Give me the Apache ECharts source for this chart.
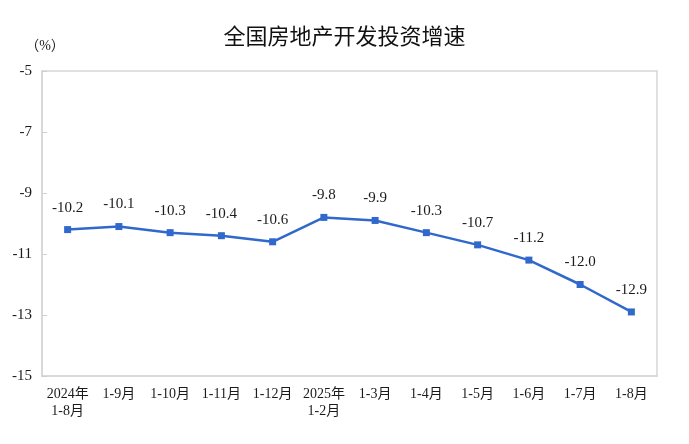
<!DOCTYPE html>
<html><head><meta charset="utf-8">
<script src="https://cdn.jsdelivr.net/npm/echarts@6/dist/echarts.min.js"></script>
<style>html,body{margin:0;padding:0;background:#fff}#c{width:689px;height:444px}</style>
</head><body><div id="c"></div>
<script>
const categories = ['2024年\n1-8月','1-9月','1-10月','1-11月','1-12月','2025年\n1-2月','1-3月','1-4月','1-5月','1-6月','1-7月','1-8月'];
const growth = [-10.2,-10.1,-10.3,-10.4,-10.6,-9.8,-9.9,-10.3,-10.7,-11.2,-12.0,-12.9];
const yMin = -15, yMax = -5, yStep = 2;

const serif = '"Liberation Serif","Times New Roman","Noto Sans CJK SC",serif';
const chart = echarts.init(document.getElementById('c'), null, {renderer:'canvas'});
chart.setOption({
  animation:false,
  backgroundColor:'#fff',
  title:{text:'全国房地产开发投资增速',left:'center',top:20,
    textStyle:{fontFamily:'"Noto Sans CJK SC",sans-serif',fontSize:22,fontWeight:'normal',color:'#111'}},
  grid:{left:42,right:32,top:71,bottom:68,show:true,borderColor:'#d6d6d6',borderWidth:1.5,containLabel:false},
  xAxis:{type:'category',data:categories,boundaryGap:true,
    axisLine:{lineStyle:{color:'#d6d6d6',width:1.5}},
    axisTick:{inside:true,length:7,lineStyle:{color:'#cfcfcf'}},
    axisLabel:{fontFamily:serif,fontSize:14,color:'#1a1a1a',lineHeight:17,margin:10,interval:0}},
  yAxis:{type:'value',min:yMin,max:yMax,interval:yStep,
    name:'（%）',nameLocation:'end',nameGap:18,
    nameTextStyle:{fontFamily:serif,fontSize:14,color:'#1a1a1a',align:'center',padding:[0,0,0,6]},
    axisLine:{show:true,lineStyle:{color:'#d6d6d6',width:1.5}},
    axisTick:{show:true,inside:true,length:5,lineStyle:{color:'#cfcfcf'}},
    splitLine:{show:false},
    axisLabel:{fontFamily:serif,fontSize:15,color:'#1a1a1a',margin:10}},
  series:[{type:'line',data:growth,symbol:'rect',symbolSize:7,
    lineStyle:{color:'#3068cc',width:2.5},itemStyle:{color:'#3068cc'},
    label:{show:true,position:'top',distance:11,fontFamily:serif,fontSize:15,color:'#1a1a1a',
      formatter:p=>p.value.toFixed(1)}}]
});
</script></body></html>
